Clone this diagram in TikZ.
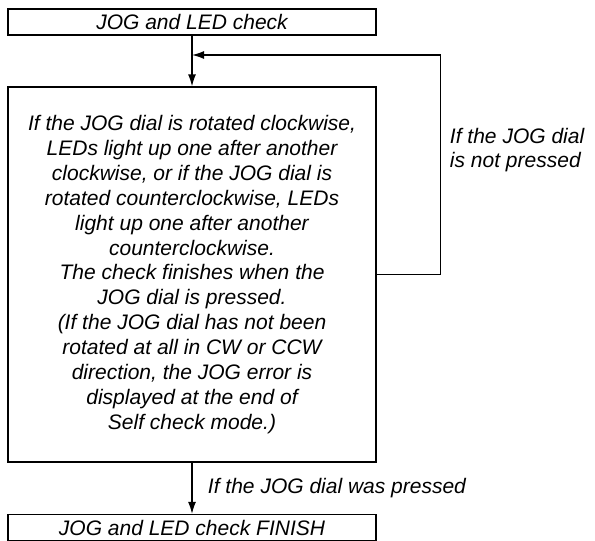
\documentclass[tikz,border=0pt]{standalone}
\usepackage{fontspec}
\setmainfont{Liberation Sans}
\usetikzlibrary{arrows.meta}

\begin{document}
\begin{tikzpicture}[x=1pt, y=-1pt, line width=1.3pt,
    font=\fontsize{21}{24.3}\selectfont\itshape,
    >={Latex[length=12pt,width=8pt]}]
        \useasboundingbox (0,0) rectangle (595,541);
        \node[draw, minimum width=368pt, minimum height=26pt, inner sep=0pt]
        (jog) at (192,22) {JOG and LED check};
        \node[draw, align=center, minimum width=368pt, minimum height=375pt, inner sep=0pt,
            font=\fontsize{21}{24.9}\selectfont\itshape]
        (check) at (192,274.5) {If the JOG dial is rotated clockwise,\\
            LEDs light up one after another\\
            clockwise, or if the JOG dial is\\
            rotated counterclockwise, LEDs\\
            light up one after another\\
            counterclockwise.\\
            The check finishes when the\\
            JOG dial is pressed.\\
            (If the JOG dial has not been\\
            rotated at all in CW or CCW\\
            direction, the JOG error is\\
            displayed at the end of\\
            Self check mode.)};
        \node[draw, minimum width=368pt, minimum height=26pt, inner sep=0pt]
        (finish) at (192,527.5) {JOG and LED check FINISH};
        \coordinate (join) at (192,55);
        \draw[->] (jog) -- (check);
        \draw[->] (check.east) -- ++(64,0) |- (join);
        \draw[->] (check) -- (finish);

        \node[anchor=west, align=left] (notpressed) at (446,150)
        {If the JOG dial\\is not pressed};
        \node[anchor=west] (pressed) at (204,488) {If the JOG dial was pressed};
    \end{tikzpicture}
\end{document}
